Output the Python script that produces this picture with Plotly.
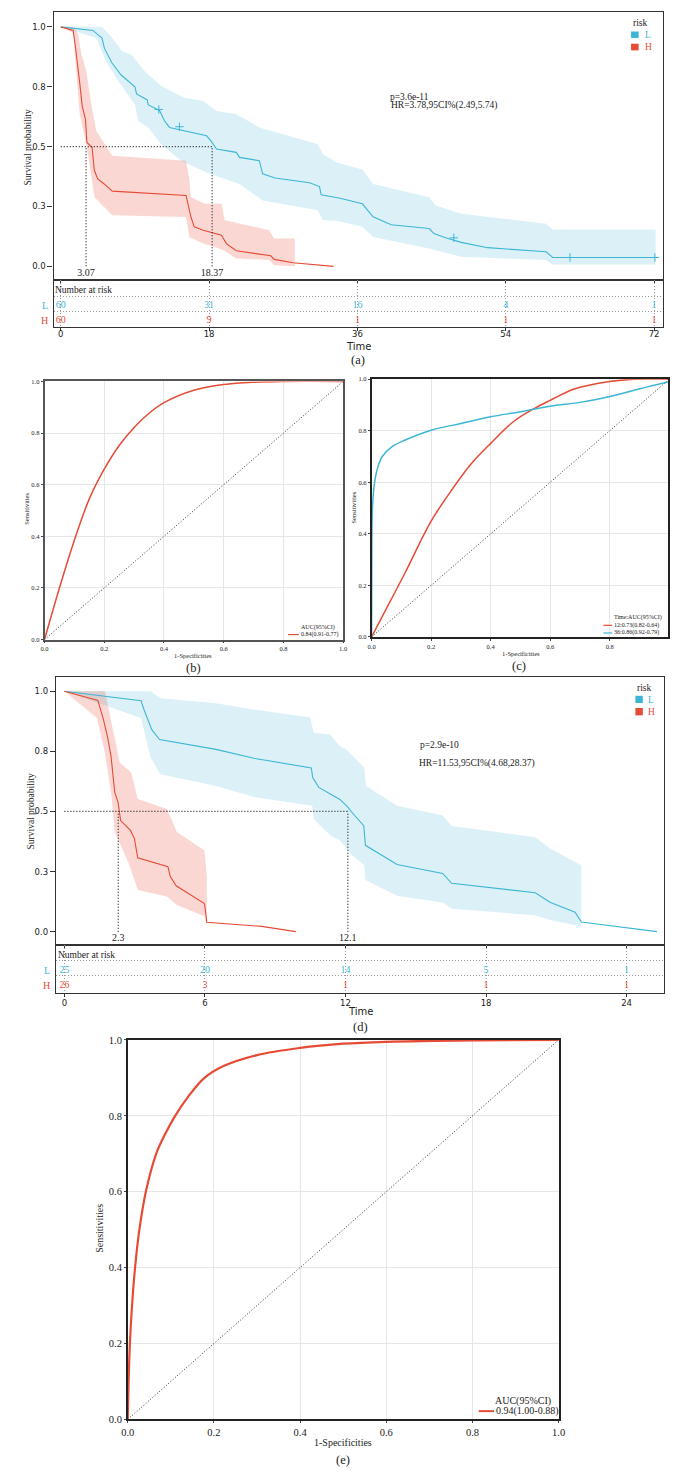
import plotly.graph_objects as go

# ------------------------------------------------------------------ data
# Panel (a): Kaplan-Meier, training set
a_L_time = [0, 3.9, 5.0, 5.3, 6.2, 7.3, 9.0, 9.2, 10.5, 10.6, 12.0, 12.6, 13.2, 15.0, 17.7, 18.2, 18.9,
            21.3, 21.7, 24.1, 24.5, 26.0, 30.2, 31.4, 31.6, 33.9, 36.6, 37.9, 40.1, 44.7, 45.3, 46.7,
            48.6, 51.8, 58.9, 59.7, 72.2]
a_L_surv = [1.0, 0.985, 0.953, 0.91, 0.85, 0.80, 0.75, 0.72, 0.695, 0.675, 0.65, 0.607, 0.58, 0.566,
            0.545, 0.525, 0.49, 0.476, 0.455, 0.441, 0.386, 0.369, 0.349, 0.333, 0.299, 0.284, 0.261,
            0.207, 0.174, 0.158, 0.137, 0.119, 0.10, 0.078, 0.061, 0.037, 0.037]
a_L_up_t = [0, 5.0, 6.25, 7.45, 8.6, 10.2, 12.2, 15.0, 17.3, 18.9, 21.3, 24.1, 31.2, 31.8, 33.5,
            36.6, 37.9, 44.7, 45.5, 48.6, 58.9, 59.7, 72.2]
a_L_up_s = [1.0, 1.0, 0.953, 0.898, 0.884, 0.815, 0.753, 0.704, 0.69, 0.649, 0.635, 0.58, 0.51,
            0.469, 0.434, 0.404, 0.344, 0.289, 0.254, 0.22, 0.178, 0.154, 0.154]
a_L_lo_t = [0, 4.3, 5.5, 7.0, 9.0, 9.4, 10.6, 12.2, 14.6, 18.1, 21.7, 24.5, 31.2, 31.8, 33.5,
            36.6, 37.9, 44.7, 45.5, 48.6, 58.9, 59.7, 72.2]
a_L_lo_s = [1.0, 0.953, 0.856, 0.773, 0.676, 0.607, 0.58, 0.51, 0.441, 0.386, 0.344, 0.275, 0.234,
            0.192, 0.19, 0.165, 0.123, 0.075, 0.066, 0.04, 0.026, 0.008, 0.008]
a_L_cens_t = [11.9, 14.4, 47.7, 61.8, 72.1]
a_L_cens_s = [0.655, 0.583, 0.119, 0.037, 0.037]

a_H_time = [0, 1.5, 1.7, 2.1, 2.3, 2.6, 3.0, 3.17, 3.8, 4.08, 4.48, 5.27, 6.26, 15.2, 15.5, 15.8,
            16.2, 17.3, 19.5, 20.1, 21.3, 25.5, 25.9, 28.2, 33.1]
a_H_surv = [1.0, 0.985, 0.939, 0.835, 0.766, 0.669, 0.614, 0.517, 0.497, 0.40, 0.365, 0.344, 0.314,
            0.296, 0.254, 0.206, 0.165, 0.151, 0.13, 0.095, 0.065, 0.044, 0.029, 0.015, 0.0]
a_H_up_t = [0, 1.5, 2.1, 2.5, 3.1, 3.7, 4.3, 6.26, 15.2, 15.6, 15.8, 17.5, 19.5, 19.9, 25.3, 25.9, 28.4]
a_H_up_s = [1.0, 1.0, 0.971, 0.888, 0.815, 0.676, 0.566, 0.462, 0.441, 0.365, 0.289, 0.261, 0.261,
            0.192, 0.151, 0.116, 0.116]
a_H_lo_t = [0, 1.5, 1.9, 2.3, 3.1, 4.1, 6.26, 15.2, 15.6, 17.3, 19.7, 21.3, 25.3, 25.9, 28.4]
a_H_lo_s = [1.0, 0.974, 0.80, 0.635, 0.51, 0.289, 0.213, 0.206, 0.123, 0.095, 0.068, 0.033, 0.026,
            0.005, 0.0]
a_medians = [3.07, 18.37]
a_ticks = [0, 18, 36, 54, 72]
a_risk_L = [60, 31, 16, 4, 1]
a_risk_H = [60, 9, 1, 1, 1]
a_p_text = "p=3.6e-11"
a_hr_text = "HR=3.78,95CI%(2.49,5.74)"

# Panel (b): ROC
b_fpr = [0, 0.05, 0.1, 0.15, 0.2, 0.25, 0.3, 0.35, 0.4, 0.5, 0.6, 0.7, 0.8, 1.0]
b_tpr = [0, 0.2, 0.385, 0.545, 0.66, 0.752, 0.822, 0.877, 0.918, 0.966, 0.988, 0.997, 1.0, 1.0]
b_legend = ["0.84(0.91-0.77)"]

# Panel (c): time-dependent ROC
c_12_fpr = [0, 0.058, 0.113, 0.2, 0.266, 0.332, 0.4, 0.475, 0.546, 0.6, 0.683, 0.8, 0.88, 1.0]
c_12_tpr = [0, 0.128, 0.25, 0.449, 0.565, 0.668, 0.751, 0.834, 0.886, 0.918, 0.963, 0.991, 1.0, 1.0]
c_36_fpr = [0, 0.001, 0.003, 0.009, 0.02, 0.036, 0.069, 0.113, 0.2, 0.3, 0.4, 0.497, 0.6, 0.705, 0.8, 0.902, 1.0]
c_36_tpr = [0, 0.372, 0.5, 0.59, 0.655, 0.7, 0.738, 0.764, 0.802, 0.828, 0.854, 0.873, 0.895, 0.911,
            0.933, 0.963, 0.99]
c_legend = ["12:0.73(0.82-0.64)", "36:0.86(0.92-0.79)"]

# Panel (d): Kaplan-Meier, validation set
d_L_time = [0, 3.27, 3.4, 3.73, 4.06, 6.47, 8.14, 10.54, 10.6, 10.86, 11.76, 12.04, 12.39, 12.78,
            12.85, 14.2, 16.15, 16.53, 20.1, 20.75, 21.8, 22.07, 25.3]
d_L_surv = [1.0, 0.96, 0.923, 0.84, 0.799, 0.758, 0.72, 0.681, 0.641, 0.60, 0.55, 0.524, 0.483,
            0.441, 0.359, 0.279, 0.242, 0.201, 0.162, 0.121, 0.081, 0.04, 0.0]
d_L_up_t = [0, 3.68, 4.1, 6.47, 8.14, 10.5, 10.64, 11.35, 11.76, 12.04, 12.8, 12.88, 14.2, 16.15,
            16.53, 20.1, 20.75, 22.07, 22.07]
d_L_up_s = [1.0, 1.0, 0.971, 0.95, 0.923, 0.891, 0.827, 0.82, 0.771, 0.758, 0.682, 0.606, 0.524,
            0.483, 0.439, 0.393, 0.345, 0.276, 0.04]
d_L_lo_t = [0, 3.27, 3.68, 4.1, 6.47, 8.14, 10.58, 10.64, 11.35, 11.76, 12.2, 12.8, 12.85, 14.2,
            16.15, 16.53, 20.1, 20.75, 22.07]
d_L_lo_s = [1.0, 0.889, 0.724, 0.655, 0.606, 0.559, 0.524, 0.469, 0.40, 0.38, 0.325, 0.276, 0.215,
            0.149, 0.121, 0.095, 0.068, 0.047, 0.022]
d_H_time = [0, 1.43, 1.66, 1.85, 1.99, 2.15, 2.29, 2.4, 2.82, 2.99, 3.13, 4.42, 4.52, 4.77, 5.98,
            6.08, 8.42, 9.88]
d_H_surv = [1.0, 0.961, 0.885, 0.806, 0.73, 0.579, 0.538, 0.462, 0.421, 0.387, 0.307, 0.27, 0.229,
            0.191, 0.117, 0.039, 0.022, 0.0]
d_H_up_t = [0, 1.73, 2.22, 2.36, 2.85, 2.99, 3.13, 4.38, 4.8, 5.98, 6.08, 6.08]
d_H_up_s = [1.0, 1.0, 0.771, 0.703, 0.662, 0.606, 0.552, 0.51, 0.414, 0.338, 0.23, 0.02]
d_H_lo_t = [0, 1.39, 1.73, 2.01, 2.15, 2.78, 3.13, 4.38, 4.8, 5.98, 6.08]
d_H_lo_s = [1.0, 0.889, 0.744, 0.565, 0.414, 0.276, 0.173, 0.146, 0.111, 0.064, 0.02]
d_medians = [2.3, 12.1]
d_ticks = [0, 6, 12, 18, 24]
d_risk_L = [25, 20, 14, 5, 1]
d_risk_H = [26, 3, 1, 1, 1]
d_p_text = "p=2.9e-10"
d_hr_text = "HR=11.53,95CI%(4.68,28.37)"

# Panel (e): ROC
e_fpr = [0, 0.002, 0.005, 0.01, 0.017, 0.027, 0.042, 0.066, 0.086, 0.11, 0.14, 0.178, 0.22, 0.3, 0.4,
         0.5, 0.6, 0.8, 1.0]
e_tpr = [0, 0.1, 0.2, 0.3, 0.4, 0.5, 0.6, 0.7, 0.75, 0.8, 0.85, 0.9, 0.93, 0.96, 0.979, 0.99,
         0.995, 0.999, 1.0]
e_legend = ["0.94(1.00-0.88)"]

diag = [0, 1]
km_yticks = [0, 0.25, 0.5, 0.75, 1.0]
km_yticktext = ["0.0", "0.3", "0.5", "0.8", "1.0"]
groups = ["L", "H"]

# ------------------------------------------------------------------ style
W, H = 675, 1475
BLUE = "#3DB6D6"
RED = "#E64B35"
BLUE_FILL = "rgba(77,187,213,0.2)"
RED_FILL = "rgba(230,75,53,0.22)"
SERIF = "Liberation Serif"
SANS = "DejaVu Sans"
FRAME = "#333333"
DOT = "1px,2px"


def dx(l, r):
    return [max(0, l / W), min(1, r / W)]


def dy(t, b):
    return [max(0, 1 - b / H), min(1, 1 - t / H)]


def px(x):
    return x / W


def py(y):
    return 1 - y / H


fig = go.Figure()
ann = []
shapes = []


def band(xa, ya, up_t, up_s, lo_t, lo_s, color):
    fig.add_trace(go.Scatter(x=up_t + lo_t[::-1], y=up_s + lo_s[::-1], fill="toself",
                             fillcolor=color, line=dict(width=0), mode="lines",
                             hoverinfo="skip", showlegend=False, xaxis=xa, yaxis=ya))


def km_panel(xa, ya, L_t, L_s, H_t, H_s, Lb, Hb, meds):
    band(xa, ya, *Lb, BLUE_FILL)
    band(xa, ya, *Hb, RED_FILL)
    fig.add_trace(go.Scatter(x=L_t, y=L_s, mode="lines", line=dict(color=BLUE, width=1.1),
                             showlegend=False, xaxis=xa, yaxis=ya))
    fig.add_trace(go.Scatter(x=H_t, y=H_s, mode="lines", line=dict(color=RED, width=1.1),
                             showlegend=False, xaxis=xa, yaxis=ya))
    fig.add_trace(go.Scatter(x=[0, max(meds)], y=[0.5, 0.5], mode="lines",
                             line=dict(color="#222", width=1.2, dash=DOT),
                             showlegend=False, xaxis=xa, yaxis=ya))
    for m in meds:
        fig.add_trace(go.Scatter(x=[m, m], y=[0, 0.5], mode="lines",
                                 line=dict(color="#222", width=1.2, dash=DOT),
                                 showlegend=False, xaxis=xa, yaxis=ya))
    fig.add_trace(go.Scatter(x=meds, y=[-0.028] * len(meds), mode="text",
                             text=[f"{m:g}" for m in meds], textposition="middle center",
                             textfont=dict(family=SERIF, size=10, color="#222"),
                             showlegend=False, xaxis=xa, yaxis=ya))


km_panel("x", "y", a_L_time, a_L_surv, a_H_time, a_H_surv,
         (a_L_up_t, a_L_up_s, a_L_lo_t, a_L_lo_s), (a_H_up_t, a_H_up_s, a_H_lo_t, a_H_lo_s), a_medians)
fig.add_trace(go.Scatter(x=a_L_cens_t, y=a_L_cens_s, mode="markers",
                         marker=dict(symbol="cross-thin-open", size=6, color=BLUE, line=dict(color=BLUE, width=1)),
                         showlegend=False, xaxis="x", yaxis="y"))
km_panel("x5", "y5", d_L_time, d_L_surv, d_H_time, d_H_surv,
         (d_L_up_t, d_L_up_s, d_L_lo_t, d_L_lo_s), (d_H_up_t, d_H_up_s, d_H_lo_t, d_H_lo_s), d_medians)


def risk_table(xa, ya, ticks, rL, rH, yL, yH):
    fig.add_trace(go.Scatter(x=ticks, y=[yL] * len(ticks), mode="text", text=[str(v) for v in rL],
                             textfont=dict(family=SERIF, size=10, color=BLUE), showlegend=False,
                             xaxis=xa, yaxis=ya))
    fig.add_trace(go.Scatter(x=ticks, y=[yH] * len(ticks), mode="text", text=[str(v) for v in rH],
                             textfont=dict(family=SERIF, size=10, color=RED), showlegend=False,
                             xaxis=xa, yaxis=ya))


risk_table("x2", "y2", a_ticks, a_risk_L, a_risk_H, 25.2, 40.7)
risk_table("x6", "y6", d_ticks, d_risk_L, d_risk_H, 26.0, 41.3)

for xa, ya in [("x3", "y3"), ("x4", "y4"), ("x7", "y7")]:
    fig.add_trace(go.Scatter(x=diag, y=diag, mode="lines", line=dict(color="#333", width=1, dash=DOT),
                             showlegend=False, xaxis=xa, yaxis=ya))
SM = 1.0
fig.add_trace(go.Scatter(x=b_fpr, y=b_tpr, mode="lines",
                         line=dict(color=RED, width=1.5, shape="spline", smoothing=SM),
                         showlegend=False, xaxis="x3", yaxis="y3"))
fig.add_trace(go.Scatter(x=c_12_fpr, y=c_12_tpr, mode="lines",
                         line=dict(color=RED, width=1.5, shape="spline", smoothing=SM),
                         showlegend=False, xaxis="x4", yaxis="y4"))
fig.add_trace(go.Scatter(x=c_36_fpr, y=c_36_tpr, mode="lines",
                         line=dict(color=BLUE, width=1.5, shape="spline", smoothing=SM),
                         showlegend=False, xaxis="x4", yaxis="y4"))
fig.add_trace(go.Scatter(x=e_fpr, y=e_tpr, mode="lines",
                         line=dict(color=RED, width=2.2, shape="spline", smoothing=SM),
                         showlegend=False, xaxis="x7", yaxis="y7"))

# ------------------------------------------------------------------ axes
frame = dict(showline=True, mirror=True, linecolor=FRAME, linewidth=1.3, zeroline=False)
tickf = dict(family=SANS, size=8.5, color="#222")

km_x_a = dict(domain=dx(47.5, 670), range=[-0.88, 73.1], tickvals=a_ticks, showticklabels=False,
              ticks="outside", ticklen=3, tickcolor=FRAME, showgrid=False, anchor="y", **frame)
km_y_a = dict(domain=dy(7.3, 277.3), range=[-0.058, 1.061], tickvals=km_yticks, ticktext=km_yticktext,
              ticks="outside", ticklen=5, tickcolor=FRAME, tickfont=tickf, showgrid=False, anchor="x", **frame)
tab_x_a = dict(domain=dx(47.5, 670), range=[-0.88, 73.1], tickvals=a_ticks, ticktext=[str(t) for t in a_ticks],
               ticks="outside", ticklen=3, tickcolor=FRAME, tickfont=tickf, ticklabelstandoff=-4,
               showgrid=True, griddash=DOT, gridcolor="#999999", gridwidth=1, anchor="y2", **frame)
tab_y_a = dict(domain=dy(277.3, 324), range=[46.7, 0], tickvals=[16, 31.7], showticklabels=False, ticks="",
               showgrid=True, griddash=DOT, gridcolor="#999999", gridwidth=1, anchor="x2", **frame)

km_x_d = dict(domain=dx(50, 671), range=[-0.36, 25.6], tickvals=d_ticks, showticklabels=False,
              ticks="outside", ticklen=3, tickcolor=FRAME, showgrid=False, anchor="y5", **frame)
km_y_d = dict(domain=dy(677.3, 946.7), range=[-0.054, 1.058], tickvals=km_yticks, ticktext=km_yticktext,
              ticks="outside", ticklen=5, tickcolor=FRAME, tickfont=tickf, showgrid=False, anchor="x5", **frame)
tab_x_d = dict(domain=dx(50, 671), range=[-0.36, 25.6], tickvals=d_ticks, ticktext=[str(t) for t in d_ticks],
               ticks="outside", ticklen=3, tickcolor=FRAME, tickfont=tickf, ticklabelstandoff=-2,
               showgrid=True, griddash=DOT, gridcolor="#999999", gridwidth=1, anchor="y6", **frame)
tab_y_d = dict(domain=dy(946.7, 995.7), range=[49, 0], tickvals=[16, 31.6], showticklabels=False, ticks="",
               showgrid=True, griddash=DOT, gridcolor="#999999", gridwidth=1, anchor="x6", **frame)


def roc_axes(xdom, ydom, xr, fsize, anchor_x, anchor_y, lc):
    common = dict(dtick=0.2, tick0=0, tickformat=".1f", ticks="outside", ticklen=2,
                  tickcolor="#444", tickfont=dict(family=SERIF, size=fsize, color="#222"),
                  showgrid=True, gridcolor="#e6e6e6", gridwidth=1, showline=True, mirror=True,
                  linecolor=lc, linewidth=1.5, zeroline=False)
    ax = dict(domain=xdom, range=xr, anchor=anchor_y, **common)
    ay = dict(domain=ydom, range=[0, 1], anchor=anchor_x, **common)
    return ax, ay


x3, y3 = roc_axes(dx(38.3, 343.3), dy(379.3, 639.3), [0, 1], 6.5, "x3", "y3", "#555555")
x4, y4 = roc_axes(dx(372.3, 675), dy(377, 636.7), [0, (675 - 372.3) / 304], 6.5, "x4", "y4", "#222222")
x7, y7 = roc_axes(dx(123.3, 563.3), dy(1042.7, 1425), [0, 1], 10.5, "x7", "y7", "#222222")


# ------------------------------------------------------------------ annotations
def A(text, x, y, size=10, family=SERIF, color="#222", xanchor="center", angle=0):
    ann.append(dict(text=text, x=px(x), y=py(y), xref="paper", yref="paper", showarrow=False,
                    xanchor=xanchor, yanchor="middle", textangle=angle,
                    font=dict(family=family, size=size, color=color)))


def square(x0, x1, y0, y1, color):
    shapes.append(dict(type="rect", xref="paper", yref="paper", x0=px(x0), x1=px(x1), y0=py(y1), y1=py(y0),
                       fillcolor=color, line=dict(width=0)))


def seg(x0, x1, y, color, w):
    shapes.append(dict(type="line", xref="paper", yref="paper", x0=px(x0), x1=px(x1), y0=py(y), y1=py(y),
                       line=dict(color=color, width=w)))


# panel a
A("Survival probability", 21, 143, 9.5, angle=-90)
A(a_p_text, 389, 93, 9.5, xanchor="left")
A(a_hr_text, 390, 101, 9.5, xanchor="left")
A("Number at risk", 47, 287, 9.5, xanchor="left")
A(groups[0], 44, 302.5, 10, color=BLUE, xanchor="right")
A(groups[1], 44, 318, 10, color=RED, xanchor="right")
A("Time", 358.5, 344, 10, family=SANS)
A("(a)", 358, 358, 12.5)
A("risk", 637, 18, 9.5, xanchor="left")
A(groups[0], 649.5, 30.5, 9.5, color=BLUE, xanchor="left")
A(groups[1], 649.5, 42.5, 9.5, color=RED, xanchor="left")
square(637.3, 645, 26.7, 33.3, BLUE)
square(637.3, 645, 39, 45.7, RED)

# panel d
A("Survival probability", 24, 812, 9.5, angle=-90)
A(d_p_text, 420, 746, 9.5, xanchor="left")
A(d_hr_text, 419, 764, 9.5, xanchor="left")
A("Number at risk", 50, 956.7, 9.5, xanchor="left")
A(groups[0], 46, 972.7, 10, color=BLUE, xanchor="right")
A(groups[1], 46, 988, 10, color=RED, xanchor="right")
A("Time", 361, 1014, 10, family=SANS)
A("(d)", 361, 1029.5, 12.5)
A("risk", 641.7, 688.3, 9.5, xanchor="left")
A(groups[0], 653, 700.5, 9.5, color=BLUE, xanchor="left")
A(groups[1], 653, 712.5, 9.5, color=RED, xanchor="left")
square(641.7, 649.3, 696, 703.3, BLUE)
square(641.7, 649.3, 708.3, 715.7, RED)

# panel b
A("Sensitivities", 20, 508, 6.5, angle=-90)
A("1-Specificities", 190, 655, 6.5)
A("(b)", 190, 668, 12.5)
A("AUC(95%CI)", 317.5, 627.3, 6)
A(b_legend[0], 298.5, 634.3, 6, xanchor="left")
seg(287, 298, 634.3, RED, 1.2)

# panel c
A("Sensitivities", 354, 506.7, 6.5, angle=-90)
A("1-Specificities", 525, 653.3, 6.5)
A("(c)", 522.7, 666, 12.5)
A("Time:AUC(95%CI)", 618, 616.7, 6, xanchor="left")
A(c_legend[0], 618, 625, 6, xanchor="left")
A(c_legend[1], 618, 632.7, 6, xanchor="left")
seg(609, 618, 625, RED, 1.2)
seg(609, 618, 632.7, BLUE, 1.2)

# panel e
A("Sensitivities", 95, 1233, 10, angle=-90)
A("1-Specificities", 343, 1448, 10)
A("(e)", 343, 1466, 12.5)
A("AUC(95%CI)", 527, 1406.7, 10)
A(e_legend[0], 497.5, 1416.7, 10, xanchor="left")
seg(481.7, 497.3, 1416.7, RED, 2)

fig.update_layout(
    width=W, height=H, margin=dict(l=0, r=0, t=0, b=0),
    paper_bgcolor="white", plot_bgcolor="rgba(0,0,0,0)",
    showlegend=False,
    xaxis=km_x_a, yaxis=km_y_a,
    xaxis2=tab_x_a, yaxis2=tab_y_a,
    xaxis3=x3, yaxis3=y3,
    xaxis4=x4, yaxis4=y4,
    xaxis5=km_x_d, yaxis5=km_y_d,
    xaxis6=tab_x_d, yaxis6=tab_y_d,
    xaxis7=x7, yaxis7=y7,
    annotations=ann, shapes=shapes,
)

fig.write_html("out.html", config={"displayModeBar": False},
               post_script="document.body.style.margin='0';")
